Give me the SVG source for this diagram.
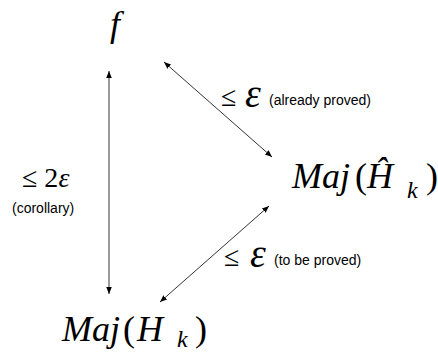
<svg xmlns="http://www.w3.org/2000/svg" width="438" height="353" viewBox="0 0 438 353">
<style>
.s{font-family:'Liberation Sans',Arial,sans-serif;font-size:14px;fill:#000}
.r{font-family:'Liberation Serif','Times New Roman',Times,'Nimbus Roman','FreeSerif','Noto Serif','DejaVu Serif',serif;fill:#000}
.i{font-style:italic}
.c line{stroke:#000;stroke-width:0.8}
</style>
<defs>
<marker id="ah" viewBox="0 0 10 10" refX="10" refY="5" markerWidth="7" markerHeight="7" markerUnits="userSpaceOnUse" orient="auto-start-reverse">
<path d="M0,1 L10,5 L0,9 z" fill="#000"/>
</marker>
</defs>
<g id="f" class="r" font-size="36"><text class="i" x="110" y="36">f</text></g>
<g id="majhat" class="r" font-size="36">
<text class="i" x="292" y="188">Maj</text>
<text x="355" y="188">(</text>
<text class="i" x="367" y="188">Ĥ</text>
<text class="i" x="407" y="198" font-size="24">k</text>
<text x="426" y="188">)</text>
</g>
<g id="maj" class="r" font-size="36">
<text class="i" x="62" y="341">Maj</text>
<text x="123" y="341">(</text>
<text class="i" x="137" y="341">H</text>
<text class="i" x="177" y="347" font-size="24">k</text>
<text x="195" y="341">)</text>
</g>
<g class="c" id="connectors">
<line x1="109" y1="71" x2="109" y2="294" marker-start="url(#ah)" marker-end="url(#ah)"/>
<line x1="164" y1="62" x2="272" y2="157" marker-start="url(#ah)" marker-end="url(#ah)"/>
<line x1="160" y1="302" x2="269" y2="206" marker-start="url(#ah)" marker-end="url(#ah)"/>
</g>
<g id="labels">
<text class="r" x="22" y="187" font-size="28">≤ 2<tspan class="i">ε</tspan></text>
<text class="s" x="12" y="213">(corollary)</text>
<text class="r" x="221" y="106" font-size="28">≤</text>
<text class="r i" x="245" y="107" font-size="40">ε</text>
<text class="s" x="269" y="105">(already proved)</text>
<text class="r" x="224" y="266" font-size="28">≤</text>
<text class="r i" x="250" y="267" font-size="40">ε</text>
<text class="s" x="274" y="265">(to be proved)</text>
</g>
</svg>
